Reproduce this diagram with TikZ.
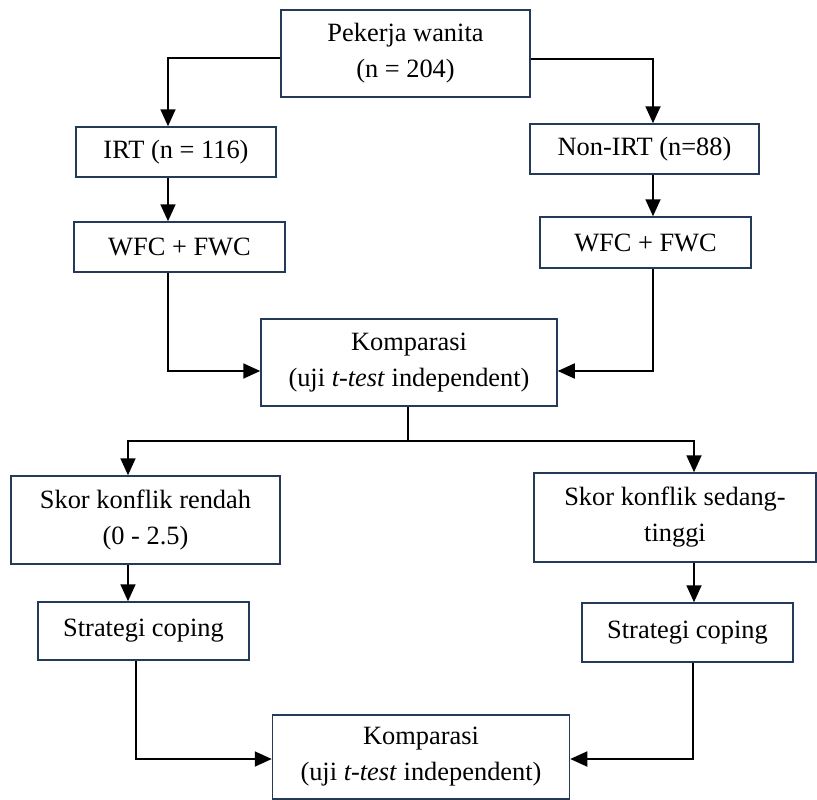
\documentclass[tikz,border=0pt]{standalone}
\usepackage{fontspec}
\setmainfont{Liberation Serif}
\usetikzlibrary{arrows.meta,calc}
\definecolor{boxline}{RGB}{36,58,88}
\begin{document}
\begin{tikzpicture}[x=1pt,y=-1pt,
  box/.style={draw=boxline,line width=1.5pt,fill=white,inner sep=0pt,align=center,
    font=\fontsize{26.4}{36}\selectfont},
  arr/.style={line width=1.8pt,-{Triangle[length=17pt,width=15pt]}},
  ln/.style={line width=1.8pt}]
\useasboundingbox (0,0) rectangle (817,800);
\node[box,minimum width=249pt,minimum height=87pt] (top) at (405.5,53.5) {Pekerja wanita\\(n = 204)};
\node[box,minimum width=200pt,minimum height=50pt] (irt) at (176,152) {IRT (n = 116)};
\node[box,minimum width=229pt,minimum height=50pt] (nonirt) at (644.5,149) {Non-IRT (n=88)};
\node[box,minimum width=211pt,minimum height=50pt] (wfcL) at (179.5,247) {WFC + FWC};
\node[box,minimum width=211pt,minimum height=51pt] (wfcR) at (645.5,242.5) {WFC + FWC};
\node[box,minimum width=296pt,minimum height=87pt] (kompA) at (409,362.5) {Komparasi\\(uji \textit{t-test} independent)};
\node[box,minimum width=269pt,minimum height=88pt] (skorL) at (145.5,520) {Skor konflik rendah\\(0 - 2.5)};
\node[box,minimum width=282pt,minimum height=89pt] (skorR) at (675,517.5) {Skor konflik sedang-\\tinggi};
\node[box,minimum width=211pt,minimum height=58pt] (stratL) at (143.5,631) {Strategi coping};
\node[box,minimum width=211pt,minimum height=59pt] (stratR) at (687.5,632.5) {Strategi coping};
\node[box,minimum width=297pt,minimum height=84pt] (kompB) at (421,757) {Komparasi\\(uji \textit{t-test} independent)};

\draw[arr] ([yshift=-4.5pt]top.west) -| ([xshift=-8pt]irt.north);
\draw[arr] ([yshift=-5.5pt]top.east) -| ([xshift=8.5pt]nonirt.north);
\draw[arr] ([xshift=-8pt]irt.south) -- ([xshift=-8pt]irt.south |- wfcL.north);
\draw[arr] ([xshift=8.5pt]nonirt.south) -- ([xshift=8.5pt]nonirt.south |- wfcR.north);
\draw[arr] ([xshift=-11.5pt]wfcL.south) |- ([yshift=-8.5pt]kompA.west);
\draw[arr] ([xshift=7.5pt]wfcR.south) |- ([yshift=-8.5pt]kompA.east);
\coordinate (split) at ($(kompA.south)+(-1,34)$);
\draw[ln] ([xshift=-1pt]kompA.south) -- (split);
\draw[arr] (split) -| ([xshift=-17.5pt]skorL.north);
\draw[arr] (split) -| ([xshift=19pt]skorR.north);
\draw[arr] ([xshift=-17.5pt]skorL.south) -- ([xshift=-17.5pt]skorL.south |- stratL.north);
\draw[arr] ([xshift=19pt]skorR.south) -- ([xshift=19pt]skorR.south |- stratR.north);
\draw[arr] ([xshift=-7.5pt]stratL.south) |- ([yshift=-2pt]kompB.west);
\draw[arr] ([xshift=5.5pt]stratR.south) |- ([yshift=-2pt]kompB.east);
\end{tikzpicture}
\end{document}
